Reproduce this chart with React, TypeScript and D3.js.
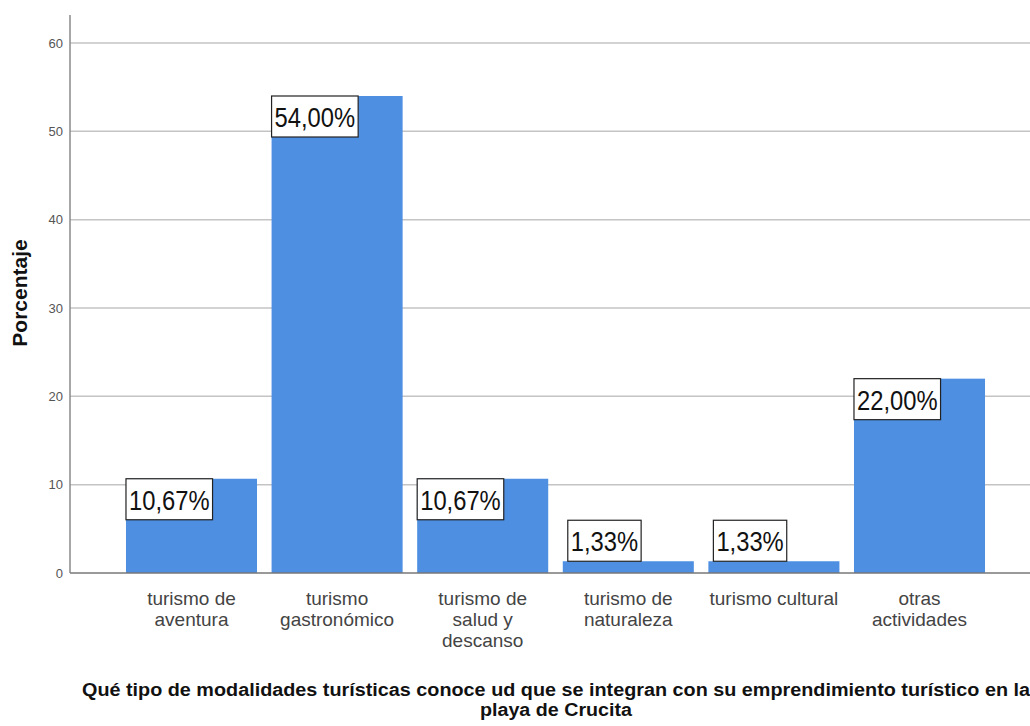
import React, { useEffect, useRef } from "react";
import * as d3 from "d3";

const categories: string[][] = [
  ["turismo de", "aventura"],
  ["turismo", "gastronómico"],
  ["turismo de", "salud y", "descanso"],
  ["turismo de", "naturaleza"],
  ["turismo cultural"],
  ["otras", "actividades"],
];
const values: number[] = [10.67, 54.0, 10.67, 1.33, 1.33, 22.0];
const valueLabels: string[] = ["10,67%", "54,00%", "10,67%", "1,33%", "1,33%", "22,00%"];
const yTicks: number[] = [0, 10, 20, 30, 40, 50, 60];
const yTitle = "Porcentaje";
const xTitleLines: string[] = [
  "Qué tipo de modalidades turísticas conoce ud que se integran con su emprendimiento turístico en la",
  "playa de Crucita",
];
const xTitleWidths: number[] = [948, 152];

const W = 1030;
const H = 726;
const FONT = "'Liberation Sans', Arial, sans-serif";

export default function App() {
  const ref = useRef<SVGSVGElement>(null);

  useEffect(() => {
    const svg = d3.select(ref.current);
    svg.selectAll("*").remove();

    const axisX = 70;
    const y = d3.scaleLinear().domain([0, 60]).range([573, 43]);
    const keys = categories.map((_, i) => String(i));
    const x = d3
      .scaleBand()
      .domain(keys)
      .range([118.7, 992.3])
      .paddingInner(0.1)
      .paddingOuter(0.05);

    // gridlines
    svg
      .append("g")
      .selectAll("line")
      .data(yTicks.filter((t) => t > 0))
      .join("line")
      .attr("x1", axisX)
      .attr("x2", W)
      .attr("y1", (d) => y(d))
      .attr("y2", (d) => y(d))
      .attr("stroke", "#c4c4c4")
      .attr("stroke-width", 1.5);

    // bars
    svg
      .append("g")
      .selectAll("rect")
      .data(values)
      .join("rect")
      .attr("x", (_, i) => x(keys[i])!)
      .attr("width", x.bandwidth())
      .attr("y", (d) => y(d))
      .attr("height", (d) => y(0) - y(d))
      .attr("fill", "#4e8fe2");

    // baseline
    svg
      .append("line")
      .attr("x1", axisX)
      .attr("x2", W)
      .attr("y1", y(0))
      .attr("y2", y(0))
      .attr("stroke", "#777")
      .attr("stroke-width", 1.5);

    // y axis line
    svg
      .append("line")
      .attr("x1", axisX)
      .attr("x2", axisX)
      .attr("y1", 15)
      .attr("y2", y(0))
      .attr("stroke", "#8a8a8a")
      .attr("stroke-width", 1.5);

    // y tick labels
    svg
      .append("g")
      .selectAll("text")
      .data(yTicks)
      .join("text")
      .attr("x", 63)
      .attr("y", (d) => y(d))
      .attr("dy", "0.36em")
      .attr("text-anchor", "end")
      .attr("font-family", FONT)
      .attr("font-size", 13)
      .attr("fill", "#555")
      .text((d) => String(d));

    // y title
    svg
      .append("text")
      .attr("transform", `translate(27,293) rotate(-90)`)
      .attr("text-anchor", "middle")
      .attr("font-family", FONT)
      .attr("font-weight", "bold")
      .attr("font-size", 21)
      .attr("fill", "#111")
      .text(yTitle);

    // x category labels
    const xl = svg.append("g");
    categories.forEach((lines, i) => {
      const cx = x(keys[i])! + x.bandwidth() / 2;
      lines.forEach((ln, j) => {
        xl.append("text")
          .attr("x", cx)
          .attr("y", 605 + j * 21)
          .attr("text-anchor", "middle")
          .attr("font-family", FONT)
          .attr("font-size", 19)
          .attr("fill", "#444")
          .text(ln);
      });
    });

    // value label boxes
    const lg = svg.append("g");
    values.forEach((v, i) => {
      const bx = x(keys[i])!;
      const g = lg.append("g");
      const rect = g.append("rect");
      const t = g
        .append("text")
        .attr("font-family", FONT)
        .attr("font-size", 27)
        .attr("fill", "#111")
        .attr("transform", "scale(0.88,1)")
        .text(valueLabels[i]);
      const tw = (t.node() as SVGTextElement).getComputedTextLength() * 0.88;
      const bw = tw + 6;
      const bh = 41;
      const barTop = y(v);
      const barH = y(0) - barTop;
      let left: number, top: number;
      if (barH >= bh) {
        left = bx;
        top = barTop;
      } else {
        left = bx + 5;
        top = barTop - bh;
      }
      rect
        .attr("x", left)
        .attr("y", top)
        .attr("width", bw)
        .attr("height", bh)
        .attr("fill", "#fff")
        .attr("stroke", "#222")
        .attr("stroke-width", 1.2);
      t.attr("x", (left + 3) / 0.88).attr("y", top + 31);
    });

    // x title
    xTitleLines.forEach((ln, j) => {
      svg
        .append("text")
        .attr("x", 556)
        .attr("y", 696 + j * 20)
        .attr("text-anchor", "middle")
        .attr("font-family", FONT)
        .attr("font-weight", "bold")
        .attr("font-size", 17.5)
        .attr("textLength", xTitleWidths[j])
        .attr("lengthAdjust", "spacingAndGlyphs")
        .attr("fill", "#111")
        .text(ln);
    });
  }, []);

  return (
    <svg
      ref={ref}
      width={W}
      height={H}
      style={{ position: "absolute", left: 0, top: 0, background: "#fff" }}
    />
  );
}
